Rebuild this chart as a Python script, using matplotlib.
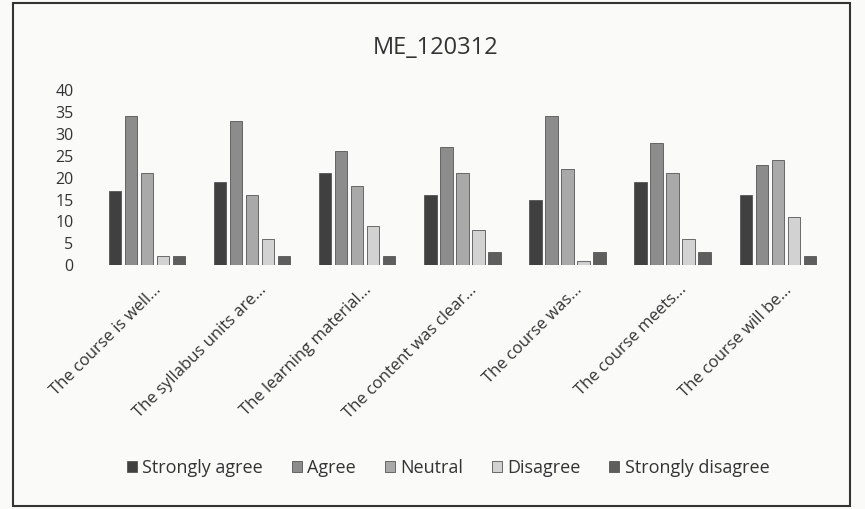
import numpy as np
import matplotlib
matplotlib.use('Agg')
import matplotlib.pyplot as plt
from matplotlib.patches import Rectangle

statements = ['The course is well...', 'The syllabus units are...', 'The learning material...',
              'The content was clear...', 'The course was...', 'The course meets...',
              'The course will be...']
series = ['Strongly agree', 'Agree', 'Neutral', 'Disagree', 'Strongly disagree']
strongly_agree = [17, 19, 21, 16, 15, 19, 16]
agree = [34, 33, 26, 27, 34, 28, 23]
neutral = [21, 16, 18, 21, 22, 21, 24]
disagree = [2, 6, 9, 8, 1, 6, 11]
strongly_disagree = [2, 2, 2, 3, 3, 3, 2]
yticks = [0, 5, 10, 15, 20, 25, 30, 35, 40]

values = [strongly_agree, agree, neutral, disagree, strongly_disagree]
colors = ['#404040', '#8c8c8c', '#a9a9a9', '#d2d2d2', '#5e5e5e']

plt.rcParams['font.family'] = ['Open Sans', 'DejaVu Sans']
BG = '#fafaf8'
fig = plt.figure(figsize=(8.65, 5.09), dpi=100, facecolor=BG)
fig.patches.append(Rectangle((0.015, 0.006), 0.968, 0.988, transform=fig.transFigure,
                             fill=False, edgecolor='#333333', lw=1.5))
ax = fig.add_axes([0.109, 0.479, 0.851, 0.344])
ax.set_facecolor(BG)

x = np.arange(len(statements))
w = 0.152
for i, (name, vals) in enumerate(zip(series, values)):
    ax.bar(x + (i - 2) * w, vals, width=w * 0.78, color=colors[i],
           edgecolor='#555555', linewidth=0.6, label=name)

ax.set_ylim(0, 40)
ax.set_yticks(yticks)
ax.set_xlim(-0.5, len(statements) - 0.5)
ax.set_xticks(x + 0.06)
ax.set_xticklabels(statements, rotation=45, ha='right', va='top', rotation_mode='anchor',
                   fontsize=12, color='#333333')
ax.tick_params(axis='y', labelsize=11.5, colors='#333333', length=0, pad=15)
ax.tick_params(axis='x', length=0, pad=12)
for s in ax.spines.values():
    s.set_visible(False)

fig.text(0.503, 0.905, 'ME_120312', ha='center', va='center', fontsize=17, color='#333333')
fig.legend(loc='center', bbox_to_anchor=(0.518, 0.08), ncol=5, frameon=False,
           fontsize=13, handlelength=0.55, handleheight=0.55, handletextpad=0.3,
           columnspacing=1.6, labelcolor='#333333')

fig.savefig('out.png', dpi=100, facecolor=fig.get_facecolor())
